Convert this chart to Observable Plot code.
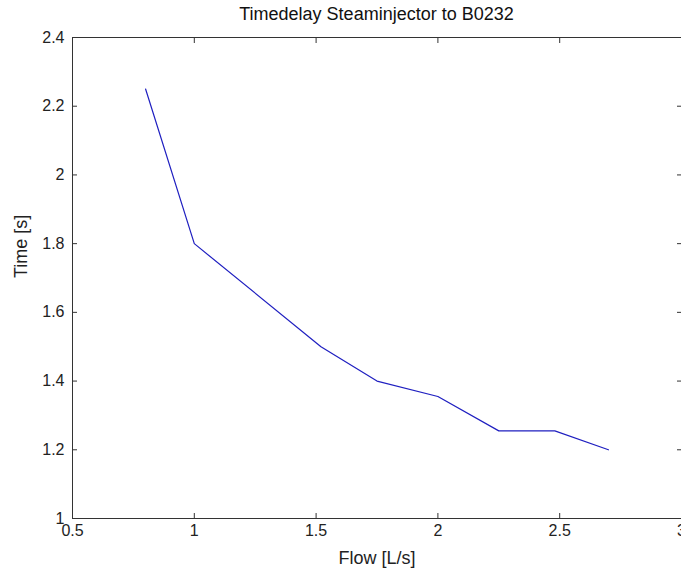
<!DOCTYPE html>
<html>
<head>
<meta charset="utf-8">
<script src="https://cdn.jsdelivr.net/npm/d3@7"></script>
<script src="https://cdn.jsdelivr.net/npm/@observablehq/plot@0.6"></script>
<style>
  html, body { margin: 0; padding: 0; background: #fff; }
  #chart { position: relative; width: 681px; height: 572px; }
  #title { position: absolute; z-index: 2; left: 72px; width: 609px; top: 4px; text-align: center;
    font-family: "Liberation Sans", Arial, sans-serif; font-size: 18px; color: #111; white-space: nowrap; }
</style>
</head>
<body>
<div id="chart"><div id="title"></div></div>
<script>
const flow = [0.8, 1.0, 1.52, 1.75, 2.0, 2.25, 2.48, 2.7];
const time = [2.25, 1.8, 1.5, 1.4, 1.355, 1.255, 1.255, 1.2];
const xTicks = [0.5, 1, 1.5, 2, 2.5, 3];
const yTicks = [1, 1.2, 1.4, 1.6, 1.8, 2, 2.2, 2.4];
const titleText = "Timedelay Steaminjector to B0232";
const xLabel = "Flow [L/s]";
const yLabel = "Time [s]";

document.getElementById("title").textContent = titleText;
const data = flow.map((f, i) => ({flow: f, time: time[i]}));
const fmt = d => String(d);

const chart = Plot.plot({
  width: 681,
  height: 572,
  marginTop: 37,
  marginBottom: 54,
  marginLeft: 72,
  marginRight: 0,
  style: {fontFamily: "'Liberation Sans', Arial, sans-serif", fontSize: "16px", color: "#222", background: "transparent", overflow: "visible"},
  x: {domain: [0.5, 3]},
  y: {domain: [1, 2.4]},
  marks: [
    Plot.frame({stroke: "#333", strokeWidth: 1}),
    Plot.axisX(xTicks, {anchor: "bottom", tickSize: -5, tickPadding: 11, tickFormat: fmt, label: null, stroke: "#333"}),
    Plot.axisX(xTicks, {anchor: "top", tickSize: -5, tickFormat: () => "", label: null, stroke: "#333"}),
    Plot.axisY(yTicks, {anchor: "left", tickSize: -5, tickPadding: 13, tickFormat: fmt, label: null, stroke: "#333"}),
    Plot.axisY(yTicks, {anchor: "right", tickSize: -5, tickFormat: () => "", label: null, stroke: "#333"}),
    Plot.text([xLabel], {frameAnchor: "bottom", dy: 33, text: d => d, fontSize: 18, lineAnchor: "top", fill: "#222"}),
    Plot.text([yLabel], {frameAnchor: "left", dx: -51, rotate: -90, text: d => d, fontSize: 18, fill: "#222"}),
    Plot.line(data, {x: "flow", y: "time", stroke: "#1f1fc0", strokeWidth: 1.2})
  ]
});
chart.style.position = "absolute";
chart.style.left = "0";
chart.style.top = "0";
document.getElementById("chart").appendChild(chart);
</script>
</body>
</html>
